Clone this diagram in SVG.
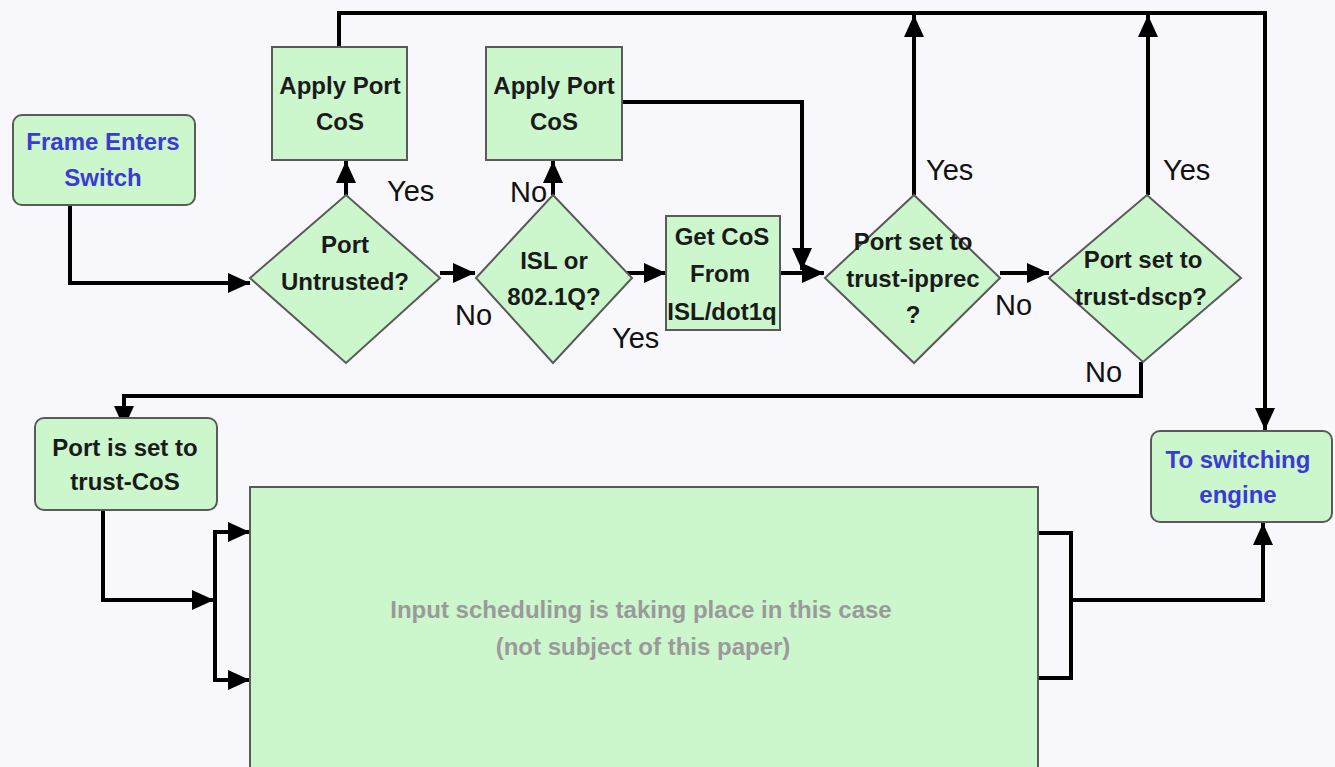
<svg xmlns="http://www.w3.org/2000/svg" width="1335" height="767" viewBox="0 0 1335 767">
<defs>
<style>
.n{fill:#ccf6cc;stroke:#5a5a5a;stroke-width:2}
.t{font-family:"Liberation Sans",Arial,sans-serif;font-weight:bold;font-size:24px;fill:#1a1a1a;text-anchor:middle}
.b{fill:#3a3ad6}
.g{fill:#9a9a9a;font-size:24px}
.l{font-family:"Liberation Sans",Arial,sans-serif;font-size:29px;fill:#111}
.c{fill:none;stroke:#000;stroke-width:4;stroke-linejoin:miter}
</style>
<marker id="a" markerUnits="userSpaceOnUse" markerWidth="22" markerHeight="20" refX="22" refY="10" orient="auto" viewBox="0 0 22 20">
<path d="M0,0 L22,10 L0,20 z" fill="#000"/>
</marker>
</defs>
<rect width="1335" height="767" fill="#f8f7fb"/>
<g id="connectors">
<path class="c" d="M70,205 V283 H250" marker-end="url(#a)"/>
<path class="c" d="M346,195 V161" marker-end="url(#a)"/>
<path class="c" d="M339,47 V13 H1265 V430" marker-end="url(#a)"/>
<path class="c" d="M440,273 H475" marker-end="url(#a)"/>
<path class="c" d="M553,195 V161" marker-end="url(#a)"/>
<path class="c" d="M626,273 H666" marker-end="url(#a)"/>
<path class="c" d="M622,102 H802 V270" marker-end="url(#a)"/>
<path class="c" d="M780,273 H824" marker-end="url(#a)"/>
<path class="c" d="M914,195 V15" marker-end="url(#a)"/>
<path class="c" d="M1000,273 H1049" marker-end="url(#a)"/>
<path class="c" d="M1148,195 V15" marker-end="url(#a)"/>
<path class="c" d="M1141,362 V396 H124 V428" marker-end="url(#a)"/>
<path class="c" d="M103,510 V600 H214" marker-end="url(#a)"/>
<path class="c" d="M215,600 V532 H250" marker-end="url(#a)"/>
<path class="c" d="M215,600 V680 H250" marker-end="url(#a)"/>
<path class="c" d="M1038,533 H1071 V678 H1038"/>
<path class="c" d="M1071,600 H1263 V523" marker-end="url(#a)"/>
</g>
<g id="frame-enters">
<rect class="n" x="13" y="115" width="182" height="90" rx="9"/>
<text class="t b" x="103" y="150">Frame Enters</text>
<text class="t b" x="103" y="186">Switch</text>
</g>
<g id="apply-port-cos-1">
<rect class="n" x="272" y="47" width="135" height="113"/>
<text class="t" x="340" y="94">Apply Port</text>
<text class="t" x="340" y="130">CoS</text>
</g>
<g id="port-untrusted">
<polygon class="n" points="250,278 346,195 440,278 346,363"/>
<text class="t" x="345" y="253">Port</text>
<text class="t" x="345" y="290">Untrusted?</text>
</g>
<g id="apply-port-cos-2">
<rect class="n" x="486" y="47" width="136" height="113"/>
<text class="t" x="554" y="94">Apply Port</text>
<text class="t" x="554" y="130">CoS</text>
</g>
<g id="isl-8021q">
<polygon class="n" points="476,278 553,195 632,278 553,363"/>
<text class="t" x="554" y="269">ISL or</text>
<text class="t" x="554" y="305">802.1Q?</text>
</g>
<g id="get-cos">
<rect class="n" x="666" y="216" width="114" height="114"/>
<text class="t" x="722" y="245">Get CoS</text>
<text class="t" x="720" y="282">From</text>
<text class="t" x="722" y="320">ISL/dot1q</text>
</g>
<g id="trust-ipprec">
<polygon class="n" points="825,278 914,195 1000,278 914,363"/>
<text class="t" x="913" y="250">Port set to</text>
<text class="t" x="913" y="287">trust-ipprec</text>
<text class="t" x="913" y="323">?</text>
</g>
<g id="trust-dscp">
<polygon class="n" points="1049,278 1147,195 1241,278 1143,362"/>
<text class="t" x="1143" y="268">Port set to</text>
<text class="t" x="1141" y="305">trust-dscp?</text>
</g>
<g id="trust-cos">
<rect class="n" x="35" y="418" width="182" height="92" rx="9"/>
<text class="t" x="125" y="456">Port is set to</text>
<text class="t" x="125" y="490">trust-CoS</text>
</g>
<g id="switching-engine">
<rect class="n" x="1151" y="431" width="181" height="91" rx="9"/>
<text class="t b" x="1238" y="468">To switching</text>
<text class="t b" x="1238" y="503">engine</text>
</g>
<g id="input-scheduling">
<rect class="n" x="250" y="487" width="788" height="290"/>
<text class="t g" x="641" y="618">Input scheduling is taking place in this case</text>
<text class="t g" x="643" y="655">(not subject of this paper)</text>
</g>
<g id="labels">
<text class="l" x="387" y="201">Yes</text>
<text class="l" x="455" y="325">No</text>
<text class="l" x="510" y="202">No</text>
<text class="l" x="612" y="348">Yes</text>
<text class="l" x="926" y="180">Yes</text>
<text class="l" x="995" y="315">No</text>
<text class="l" x="1163" y="180">Yes</text>
<text class="l" x="1085" y="382">No</text>
</g>
</svg>
